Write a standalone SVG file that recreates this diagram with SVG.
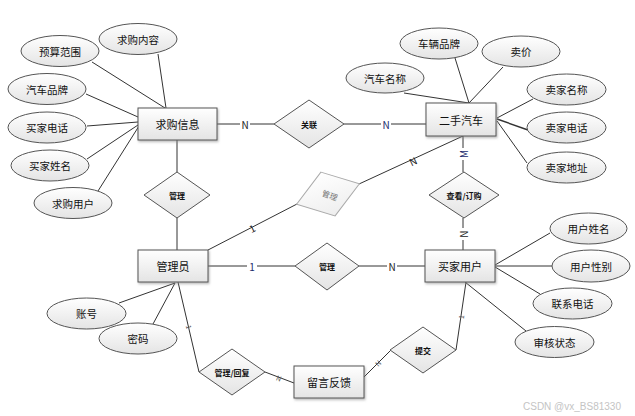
<svg xmlns="http://www.w3.org/2000/svg" width="635" height="416" viewBox="0 0 635 416">
<defs>
<linearGradient id="g" x1="0" y1="0" x2="0" y2="1"><stop offset="0" stop-color="#ffffff"/><stop offset="1" stop-color="#e4e4e4"/></linearGradient>
<linearGradient id="gl" x1="0" y1="0" x2="0" y2="1"><stop offset="0" stop-color="#ffffff"/><stop offset="1" stop-color="#eeeeee"/></linearGradient>
<filter id="sh" x="-20%" y="-20%" width="140%" height="150%"><feDropShadow dx="1" dy="1.5" stdDeviation="0.8" flood-color="#888" flood-opacity="0.6"/></filter>
</defs>
<style>
text{font-family:"Noto Sans CJK SC","Liberation Sans",sans-serif;fill:#111;text-anchor:middle;dominant-baseline:central}
.ent rect{fill:url(#g);stroke:#555;stroke-width:1;filter:url(#sh)}
.ent text{font-size:11px}
.att ellipse{fill:url(#g);stroke:#555;stroke-width:1}
.att text{font-size:10.5px}
.rel polygon{fill:url(#g);stroke:#555;stroke-width:1}
.rel text{font-size:8px;font-weight:bold}
.lines line,.lines polyline{stroke:#333;stroke-width:1;fill:none}
.lbl{font-size:10px;fill:#222}
.lblb{font-size:10px;fill:#1a2a6c}
.tick{font-size:7px;fill:#555}
</style>

<g class="lines" id="connectors">
<line x1="158" y1="54" x2="166" y2="108"/>
<line x1="92" y1="62" x2="165" y2="108"/>
<line x1="86" y1="94" x2="138" y2="117"/>
<line x1="87" y1="126" x2="138" y2="122"/>
<line x1="87" y1="159" x2="138" y2="125"/>
<line x1="98" y1="191" x2="139" y2="126"/>
<line x1="217" y1="124" x2="274" y2="124"/>
<line x1="344" y1="124" x2="426" y2="124"/>
<line x1="177" y1="140" x2="177" y2="172"/>
<line x1="177" y1="218" x2="177" y2="250"/>
<line x1="208" y1="250" x2="297" y2="204"/>
<line x1="359" y1="184" x2="463" y2="136"/>
<line x1="463" y1="136" x2="463" y2="172"/>
<line x1="463" y1="218" x2="463" y2="250"/>
<line x1="208" y1="266" x2="295" y2="266"/>
<line x1="359" y1="266" x2="425" y2="266"/>
<line x1="455" y1="58" x2="469" y2="103"/>
<line x1="503" y1="67" x2="469" y2="103"/>
<line x1="404" y1="93" x2="469" y2="103"/>
<line x1="533" y1="99" x2="497" y2="118"/>
<line x1="497" y1="119" x2="528" y2="130" style="stroke-width:1.4"/>
<line x1="497" y1="121" x2="527" y2="163"/>
<line x1="495" y1="265" x2="550" y2="233"/>
<line x1="495" y1="266" x2="552" y2="266"/>
<line x1="495" y1="267" x2="540" y2="294"/>
<line x1="465" y1="282" x2="526" y2="331"/>
<line x1="466" y1="282" x2="456" y2="350"/>
<line x1="391" y1="350" x2="364" y2="377"/>
<line x1="178" y1="282" x2="199" y2="372"/>
<line x1="265" y1="372" x2="294" y2="383"/>
<line x1="119" y1="303" x2="175" y2="283"/>
<line x1="153" y1="324" x2="175" y2="283"/>
</g>

<g id="conn-labels">
<rect x="240" y="118" width="10" height="12" fill="#fff"/>
<text class="lbl" x="245" y="124">N</text>
<rect x="381" y="118" width="10" height="12" fill="#fff"/>
<text class="lblb" x="386" y="124">N</text>
<text class="lbl" x="252" y="228" transform="rotate(-27 252 228)">1</text>
<text class="lbl" x="413" y="161" transform="rotate(-25 413 161)">N</text>
<rect x="457" y="148" width="12" height="12" fill="#fff"/>
<text class="lblb" x="463" y="154" transform="rotate(-90 463 154)">M</text>
<rect x="457" y="228" width="12" height="12" fill="#fff"/>
<text class="lbl" x="463" y="234" transform="rotate(-90 463 234)">N</text>
<rect x="247" y="260" width="10" height="12" fill="#fff"/>
<text class="lblb" x="252" y="266">1</text>
<rect x="387" y="260" width="10" height="12" fill="#fff"/>
<text class="lbl" x="392" y="266">N</text>
<text class="tick" x="189" y="327" transform="rotate(77 189 327)">1</text>
<text class="tick" x="279" y="378" transform="rotate(21 279 378)">N</text>
<text class="tick" x="461" y="317" transform="rotate(-82 461 317)">1</text>
<text class="tick" x="378" y="363" transform="rotate(-45 378 363)">N</text>
</g>

<g id="e-qiugouxinxi" class="ent"><rect x="138" y="108" width="79" height="32"/><text x="177.5" y="124">求购信息</text></g>
<g id="e-ershouqiche" class="ent"><rect x="426" y="103" width="70" height="33"/><text x="461" y="119.5">二手汽车</text></g>
<g id="e-guanliyuan" class="ent"><rect x="138" y="250" width="70" height="32"/><text x="173" y="266">管理员</text></g>
<g id="e-maijiayonghu" class="ent"><rect x="425" y="250" width="70" height="32"/><text x="460" y="266">买家用户</text></g>
<g id="e-liuyanfankui" class="ent"><rect x="294" y="366" width="70" height="32"/><text x="329" y="382">留言反馈</text></g>

<g id="r-guanlian" class="rel"><polygon points="309,100 344,124 309,148 274,124"/><text x="309" y="124">关联</text></g>
<g id="r-guanli1" class="rel"><polygon points="177,172 210,195 177,218 144,195"/><text x="177" y="195">管理</text></g>
<g id="r-chakan" class="rel"><polygon points="464,172 499,195 464,218 429,195"/><text x="464" y="195">查看/订购</text></g>
<g id="r-guanli2" class="rel"><polygon points="327,243 359,266 327,290 295,266"/><text x="327" y="266">管理</text></g>
<g id="r-guanlihuifu" class="rel"><polygon points="232,349 265,372 232,395 199,372"/><text x="232" y="372">管理/回复</text></g>
<g id="r-tijiao" class="rel"><polygon points="423,327 456,350 423,373 390,350"/><text x="423" y="350">提交</text></g>
<g id="r-guanli3" transform="translate(328,194) rotate(-18)">
<polygon points="0,-23 33,0 0,23 -33,0" fill="url(#gl)" stroke="#aaa" stroke-width="1"/>
</g>
<text x="330" y="195" transform="rotate(20 330 195)" style="font-size:8px;fill:#777">管理</text>

<g id="a-qiugouneirong" class="att"><ellipse cx="138" cy="39" rx="39" ry="15.5"/><text x="138" y="39">求购内容</text></g>
<g id="a-yusuanfanwei" class="att"><ellipse cx="60" cy="51" rx="39" ry="15.5"/><text x="60" y="51">预算范围</text></g>
<g id="a-qichepinpai" class="att"><ellipse cx="47" cy="89" rx="39" ry="15.5"/><text x="47" y="89">汽车品牌</text></g>
<g id="a-maijiadianhua" class="att"><ellipse cx="47" cy="127.5" rx="39" ry="15.5"/><text x="47" y="127.5">买家电话</text></g>
<g id="a-maijiaxingming" class="att"><ellipse cx="50" cy="165.5" rx="39" ry="15.5"/><text x="50" y="165.5">买家姓名</text></g>
<g id="a-qiugouyonghu" class="att"><ellipse cx="73" cy="203" rx="39" ry="15.5"/><text x="73" y="203">求购用户</text></g>
<g id="a-cheliangpinpai" class="att"><ellipse cx="439" cy="43.5" rx="39" ry="15.5"/><text x="439" y="43.5">车辆品牌</text></g>
<g id="a-maijia" class="att"><ellipse cx="521" cy="51.5" rx="39" ry="15.5"/><text x="521" y="51.5">卖价</text></g>
<g id="a-qichemingcheng" class="att"><ellipse cx="385" cy="78" rx="39" ry="15"/><text x="385" y="78">汽车名称</text></g>
<g id="a-maijiamingcheng" class="att"><ellipse cx="566.5" cy="89.5" rx="39.5" ry="15.5"/><text x="566.5" y="89.5">卖家名称</text></g>
<g id="a-maijiadianhua2" class="att"><ellipse cx="566.5" cy="127.5" rx="39.5" ry="15.5"/><text x="566.5" y="127.5">卖家电话</text></g>
<g id="a-maijiadizhi" class="att"><ellipse cx="566.5" cy="167.5" rx="39.5" ry="15.5"/><text x="566.5" y="167.5">卖家地址</text></g>
<g id="a-yonghuxingming" class="att"><ellipse cx="588.5" cy="228.5" rx="38.5" ry="15.5"/><text x="588.5" y="228.5">用户姓名</text></g>
<g id="a-yonghuxingbie" class="att"><ellipse cx="591" cy="266" rx="39" ry="16"/><text x="591" y="266">用户性别</text></g>
<g id="a-lianxidianhua" class="att"><ellipse cx="572.5" cy="303.5" rx="39.5" ry="15.5"/><text x="572.5" y="303.5">联系电话</text></g>
<g id="a-shenhezhuangtai" class="att"><ellipse cx="554.5" cy="342" rx="39.5" ry="15.5"/><text x="554.5" y="342">审核状态</text></g>
<g id="a-zhanghao" class="att"><ellipse cx="86.5" cy="313.5" rx="39.5" ry="15.5"/><text x="86.5" y="313.5">账号</text></g>
<g id="a-mima" class="att"><ellipse cx="138" cy="338.5" rx="39" ry="15.5"/><text x="138" y="338.5">密码</text></g>

<text x="572" y="406" style="font-size:10px;fill:#c4c4c4;font-family:'Liberation Sans',sans-serif">CSDN @vx_BS81330</text>
</svg>
